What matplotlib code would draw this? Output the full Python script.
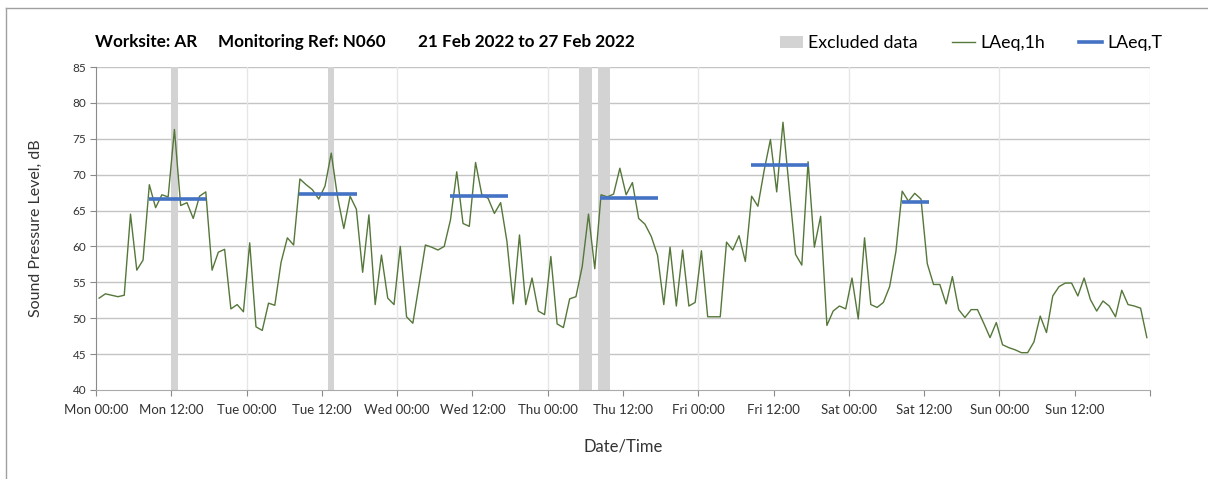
import numpy as np
import matplotlib
matplotlib.use("Agg")
import matplotlib.pyplot as plt
from matplotlib.patches import Patch
from matplotlib.lines import Line2D

plt.rcParams["font.family"] = ["Lato", "DejaVu Sans"]

# hourly LAeq values, Mon 00:00 .. Sun 23:00
laeq_1h = [
    52.8, 53.4, 53.2, 53.0, 53.2, 64.5, 56.7, 58.1, 68.6, 65.4, 67.2, 66.9,
    76.3, 65.7, 66.1, 63.9, 67.0, 67.6, 56.7, 59.2, 59.6, 51.3, 51.9, 50.9,
    60.5, 48.8, 48.3, 52.1, 51.8, 57.8, 61.2, 60.2, 69.4, 68.6, 67.9, 66.6,
    68.4, 73.0, 66.9, 62.5, 67.0, 65.2, 56.4, 64.4, 51.9, 58.8, 52.8, 51.9,
    60.0, 50.2, 49.3, 54.7, 60.2, 59.9, 59.5, 60.0, 63.7, 70.4, 63.2, 62.8,
    71.7, 67.2, 66.7, 64.6, 66.1, 60.7, 52.0, 61.6, 51.9, 55.6, 51.0, 50.5,
    58.6, 49.2, 48.7, 52.7, 53.0, 57.2, 64.5, 56.9, 67.2, 66.9, 67.3, 70.9,
    67.2, 68.9, 63.9, 63.1, 61.4, 58.8, 51.9, 59.9, 51.7, 59.5, 51.7, 52.2,
    59.4, 50.2, 50.2, 50.2, 60.6, 59.5, 61.5, 57.9, 67.0, 65.6, 70.6, 74.9,
    67.6, 77.3, 68.0, 58.9, 57.4, 71.8, 59.9, 64.2, 49.0, 51.0, 51.7, 51.3,
    55.6, 49.9, 61.2, 51.9, 51.5, 52.2, 54.4, 59.3, 67.7, 66.3, 67.4, 66.6,
    57.6, 54.7, 54.7, 52.0, 55.8, 51.2, 50.1, 51.2, 51.2, 49.3, 47.3, 49.4,
    46.3, 45.9, 45.6, 45.2, 45.2, 46.7, 50.3, 48.0, 53.1, 54.4, 54.9, 54.9,
    53.1, 55.6, 52.6, 51.0, 52.4, 51.7, 50.2, 53.9, 51.9, 51.7, 51.4, 47.3,
]

# LAeq,T daytime levels (hours from Mon 00:00)
lt_start = [8.4, 32.4, 56.4, 80.4, 104.4, 128.4]
lt_end = [17.6, 41.6, 65.6, 89.6, 113.6, 132.7]
lt_level = [66.6, 67.3, 67.0, 66.8, 71.3, 66.2]

# excluded periods (hours from Mon 00:00)
excl_start = [12, 37, 77, 80]
excl_end = [13, 38, 79, 82]

tick_labels = ["Mon 00:00", "Mon 12:00", "Tue 00:00", "Tue 12:00", "Wed 00:00",
               "Wed 12:00", "Thu 00:00", "Thu 12:00", "Fri 00:00", "Fri 12:00",
               "Sat 00:00", "Sat 12:00", "Sun 00:00", "Sun 12:00", ""]

GREEN = "#55773a"
BLUE = "#4472c4"
GREY = "#d3d3d3"

W, H = 1208, 479
fig = plt.figure(figsize=(W / 100, H / 100), dpi=100)
ax = fig.add_axes([96 / W, 89 / H, 1054 / W, 323 / H])

hours = np.arange(len(laeq_1h)) + 0.5

for s, e in zip(excl_start, excl_end):
    ax.axvspan(s, e, color=GREY, lw=0, zorder=1)

ax.plot(hours, laeq_1h, color=GREEN, lw=1.0, zorder=3)

for s, e, lv in zip(lt_start, lt_end, lt_level):
    ax.plot([s, e], [lv, lv], color=BLUE, lw=2.6, zorder=4, solid_capstyle="butt")

ax.set_xlim(0, 168)
ax.set_ylim(40, 85)
ax.set_yticks(np.arange(40, 86, 5))
ax.set_xticks(np.arange(0, 169, 12))
ax.set_xticklabels(tick_labels)

for y in range(45, 86, 5):
    ax.axhline(y, color="#c4c4c4", lw=1.0, zorder=0)
for x in range(24, 169, 24):
    ax.axvline(x, color="#e6e6e6", lw=1.0, zorder=0)

for side in ["top", "right"]:
    ax.spines[side].set_visible(False)
ax.spines["left"].set_color("#8a8a8a")
ax.spines["bottom"].set_color("#aaaaaa")
ax.tick_params(axis="x", length=4, color="#8a8a8a", labelsize=9.5, labelcolor="#333333", pad=6)
ax.tick_params(axis="y", length=4, color="#8a8a8a", labelsize=8.5, labelcolor="#333333", pad=3)

ax.set_ylabel("Sound Pressure Level, dB", fontsize=11.5, color="#333333", labelpad=21)
ax.set_xlabel("Date/Time", fontsize=12, color="#333333", labelpad=16)

title_y = 1 - 42 / H
fig.text(95 / W, title_y, "Worksite: AR", fontsize=12.3, fontweight="bold", va="center")
fig.text(218 / W, title_y, "Monitoring Ref: N060", fontsize=12.3, fontweight="bold", va="center")
fig.text(418 / W, title_y, "21 Feb 2022 to 27 Feb 2022", fontsize=12.3, fontweight="bold", va="center")

handles = [Patch(color=GREY, lw=0), Line2D([], [], color=GREEN, lw=1.0),
           Line2D([], [], color=BLUE, lw=2.6)]
fig.legend(handles, ["Excluded data", "LAeq,1h", "LAeq,T"], loc="center right",
           bbox_to_anchor=(1178 / W, 1 - 43 / H), ncol=3, frameon=False,
           fontsize=12.8, handlelength=1.3, handletextpad=0.3, columnspacing=1.9)

# outer frame (left and top edges visible in the original)
fig.add_artist(Line2D([5.5 / W, 5.5 / W], [0, 1 - 8 / H], color="#a0a0a0", lw=1))
fig.add_artist(Line2D([5.5 / W, 1], [1 - 8 / H, 1 - 8 / H], color="#a0a0a0", lw=1))

fig.savefig("out.png", dpi=100)
